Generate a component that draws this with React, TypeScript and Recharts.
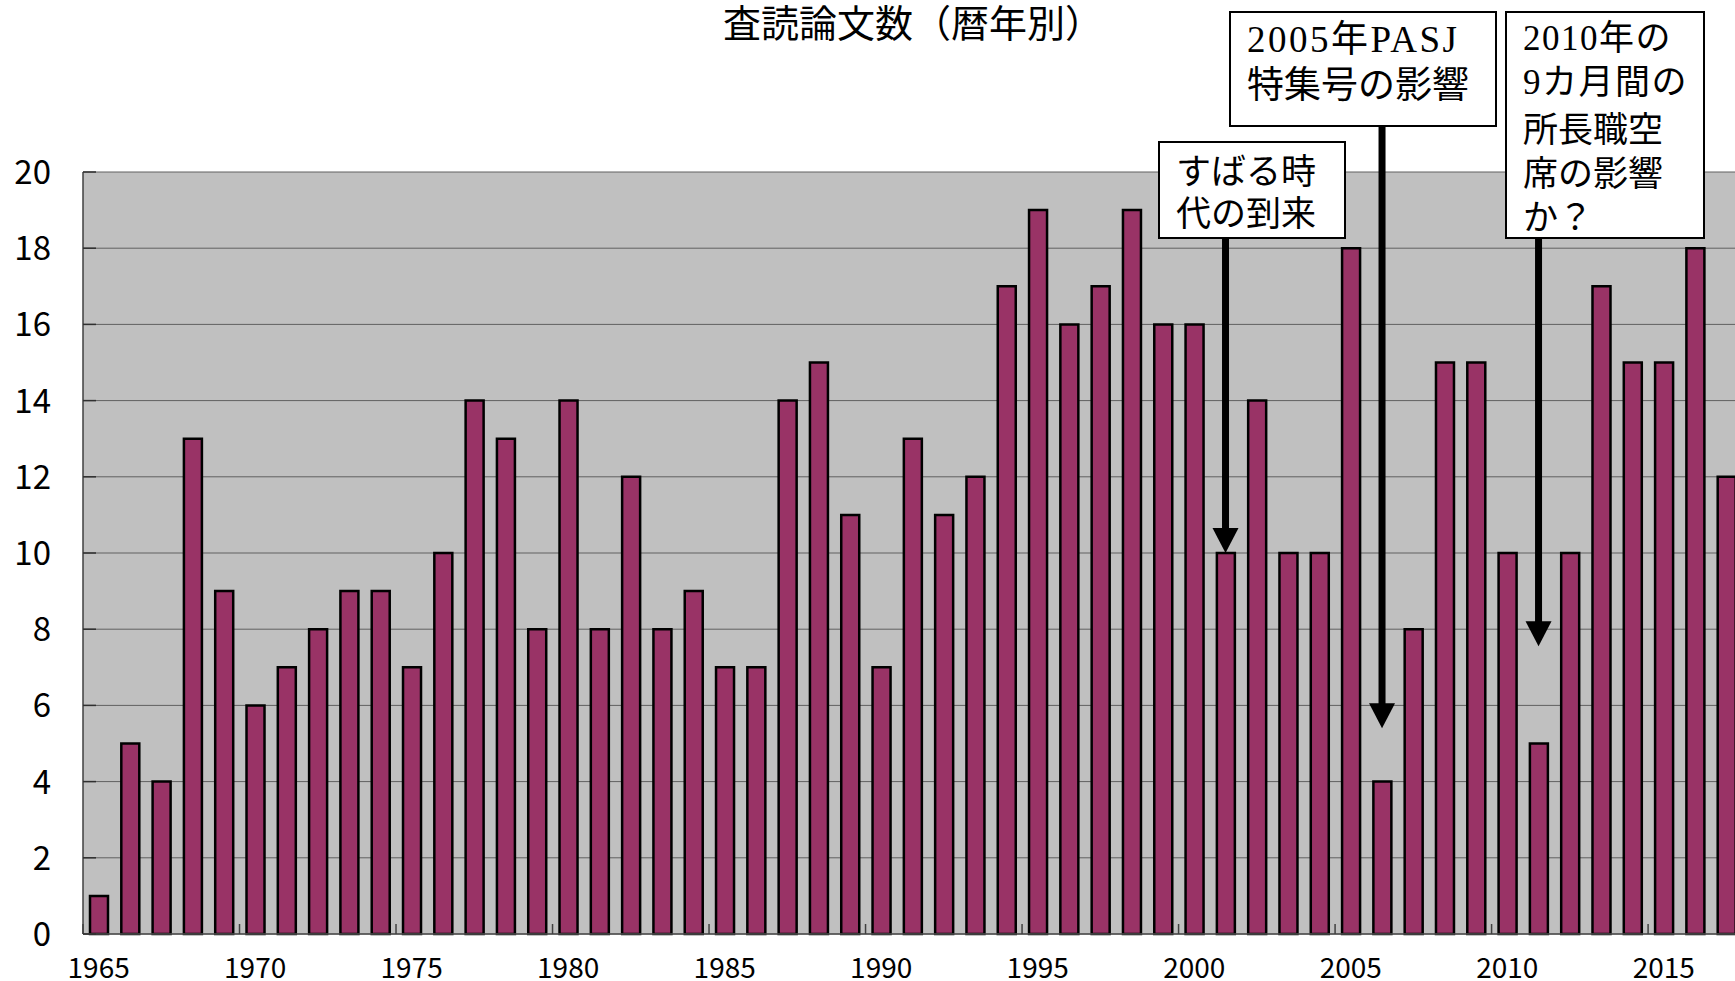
import { BarChart, Bar, XAxis, YAxis, CartesianGrid, ReferenceDot } from 'recharts';

const years = [
  '1965', '1966', '1967', '1968', '1969', '1970', '1971', '1972', '1973', '1974',
  '1975', '1976', '1977', '1978', '1979', '1980', '1981', '1982', '1983', '1984',
  '1985', '1986', '1987', '1988', '1989', '1990', '1991', '1992', '1993', '1994',
  '1995', '1996', '1997', '1998', '1999', '2000', '2001', '2002', '2003', '2004',
  '2005', '2006', '2007', '2008', '2009', '2010', '2011', '2012', '2013', '2014',
  '2015', '2016', '2017',
];

const papers = [
  1, 5, 4, 13, 9, 6, 7, 8, 9, 9,
  7, 10, 14, 13, 8, 14, 8, 12, 8, 9,
  7, 7, 14, 15, 11, 7, 13, 11, 12, 17,
  19, 16, 17, 19, 16, 16, 10, 14, 10, 10,
  18, 4, 8, 15, 15, 10, 5, 10, 17, 15,
  15, 18, 12,
];

const yTicks = [0, 2, 4, 6, 8, 10, 12, 14, 16, 18, 20];

const title = '査読論文数（暦年別）';

// arrow target year / value where the arrow tip sits
const arrowYears = ['2001', '2006', '2011'];
const arrowTips = [10, 5.4, 7.55];

const noteLines = [
  ['すばる時', '代の到来'],
  ['2005年PASJ', '特集号の影響'],
  ['2010年の', '9カ月間の', '所長職空', '席の影響', 'か？'],
];

const data = years.map((year, i) => ({ year, count: papers[i] }));

const W = 1742;
const H = 981;
const PLOT_LEFT = 83;
const PLOT_TOP = 172;
const AXIS_Y = 934;
const BAND = (W - PLOT_LEFT) / years.length;

const gothic = '"Noto Sans CJK JP", "DejaVu Sans", sans-serif';
const mincho = '"Liberation Serif", "Noto Sans CJK JP", serif';

// box layout for the three notes (pixels)
const boxes = [
  { x: 1159, y: 142, w: 186, h: 96, tx: 1176, ty: 168, step: 42, size: 35 },
  { x: 1230, y: 12, w: 266, h: 114, tx: 1247, ty: 39, step: 43, size: 37 },
  { x: 1506, y: 12, w: 198, h: 226, tx: 1523, ty: 38, step: 44, size: 35 },
];

const YTick = ({ y, payload }: any) => (
  <g>
    <text x={51} y={y + 12} textAnchor="end" fontSize={33} fontFamily={gothic} fill="#000">
      {payload.value}
    </text>
    <line x1={PLOT_LEFT} x2={PLOT_LEFT + 13} y1={y} y2={y} stroke="#303030" strokeWidth={1.5} />
  </g>
);

const XTick = ({ x, payload }: any) => (
  <g>
    <line x1={x - BAND / 2} x2={x - BAND / 2} y1={AXIS_Y} y2={AXIS_Y - 10} stroke="#404040" strokeWidth={1.5} />
    <text x={x} y={978} textAnchor="middle" fontSize={28} fontFamily={gothic} fill="#000">
      {payload.value}
    </text>
  </g>
);

const arrowShape = (topY: number) => (props: any) => {
  const { cx, cy } = props;
  return (
    <g>
      <rect x={cx - 3.5} y={topY} width={7} height={cy - 23 - topY} fill="#000" />
      <polygon points={`${cx - 13},${cy - 25} ${cx + 13},${cy - 25} ${cx},${cy}`} fill="#000" />
    </g>
  );
};

export default function App() {
  return (
    <div
      style={{
        position: 'fixed', left: 0, top: 0, width: 1735, height: 981,
        overflow: 'hidden', background: '#fff',
      }}
    >
      <BarChart
        width={W}
        height={H}
        data={data}
        margin={{ top: PLOT_TOP, right: 0, left: 0, bottom: 0 }}
        barSize={18}
      >
        <CartesianGrid vertical={false} stroke="#606060" fill="#c0c0c0" fillOpacity={1} />
        <XAxis
          dataKey="year"
          interval={4}
          height={H - AXIS_Y}
          axisLine={{ stroke: '#505050', strokeWidth: 1.5 }}
          tickLine={false}
          tick={<XTick />}
        />
        <YAxis
          width={PLOT_LEFT}
          domain={[0, 20]}
          ticks={yTicks}
          axisLine={{ stroke: '#404040', strokeWidth: 1.5 }}
          tickLine={false}
          tick={<YTick />}
        />
        <Bar dataKey="count" fill="#993366" stroke="#000" strokeWidth={2.5} isAnimationActive={false} />
        {arrowYears.map((yr, i) => (
          <ReferenceDot
            key={yr}
            x={yr}
            y={arrowTips[i]}
            r={0}
            shape={arrowShape(boxes[i].y + boxes[i].h)}
          />
        ))}
      </BarChart>
      <svg
        width={1735}
        height={981}
        style={{ position: 'absolute', left: 0, top: 0, pointerEvents: 'none' }}
      >
        <text x={913} y={20} textAnchor="middle" dominantBaseline="central" fontSize={38} fontFamily={gothic} fill="#000">
          {title}
        </text>
        {boxes.map((b, i) => (
          <g key={i}>
            <rect x={b.x} y={b.y} width={b.w} height={b.h} fill="#fff" stroke="#000" strokeWidth={2} />
            {noteLines[i].map((line, j) => {
              const serif = /^[0-9]/.test(line);
              return (
                <text
                  key={j}
                  x={b.tx}
                  y={b.ty + j * b.step}
                  dominantBaseline="central"
                  fontSize={b.size}
                  fontFamily={serif ? mincho : gothic}
                  letterSpacing={serif && i === 1 ? 2.5 : serif ? 1.5 : 0}
                  fill="#000"
                >
                  {line}
                </text>
              );
            })}
          </g>
        ))}
      </svg>
    </div>
  );
}
